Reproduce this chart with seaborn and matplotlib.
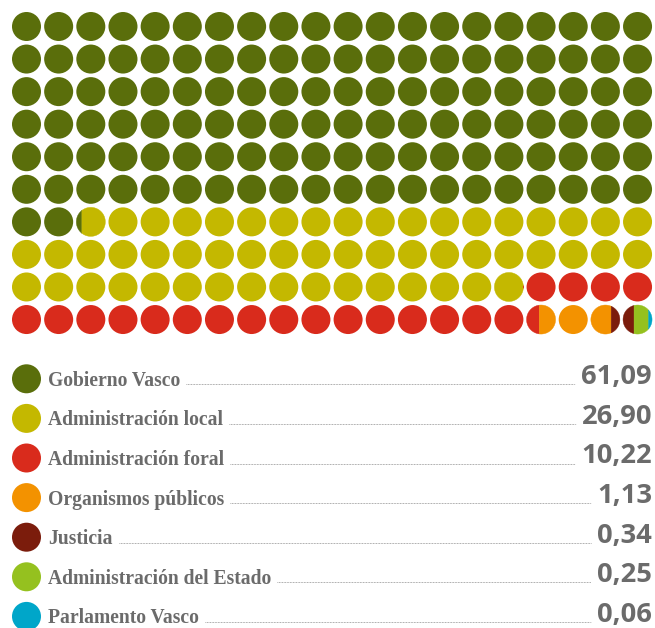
import numpy as np
import pandas as pd
import matplotlib
matplotlib.use('Agg')
import matplotlib.pyplot as plt
from matplotlib.patches import Circle, Polygon
import seaborn as sns

categories = ['Gobierno Vasco', 'Administración local', 'Administración foral',
              'Organismos públicos', 'Justicia', 'Administración del Estado',
              'Parlamento Vasco']
values = [61.09, 26.90, 10.22, 1.13, 0.34, 0.25, 0.06]
value_labels = ['61,09', '26,90', '10,22', '1,13', '0,34', '0,25', '0,06']
colors = ['#5a6e0b', '#c4b800', '#d92b1c', '#f39200', '#7b1c0c', '#95c11f', '#00a6c9']

n_cols, n_rows = 20, 10
text_grey = '#6b6b6b'

sns.set_theme(style='white')

fig = plt.figure(figsize=(6.55, 6.28), dpi=100)
ax = fig.add_axes([0, 0, 1, 1])
ax.set_xlim(0, 655)
ax.set_ylim(628, 0)
ax.axis('off')

# waffle: each circle is 1/200 of the total, split vertically where categories meet
units = np.array(values) / sum(values) * n_cols * n_rows
bounds = np.concatenate([[0], np.cumsum(units)])
r = 14.5
x0, dx = 26.5, 32.16
y0, dy = 26.5, 32.56


def segment_poly(cx, cy, fa, fb, n=40):
    ta = np.arccos(np.clip(2 * fa - 1, -1, 1))
    tb = np.arccos(np.clip(2 * fb - 1, -1, 1))
    upper = np.linspace(ta, tb, n)
    lower = np.linspace(-tb, -ta, n)
    t = np.concatenate([upper, lower])
    return np.column_stack([cx + r * np.cos(t), cy + r * np.sin(t)])


for k in range(n_cols * n_rows):
    row, col = divmod(k, n_cols)
    cx, cy = x0 + col * dx, y0 + row * dy
    segs = []
    for i in range(len(values)):
        a, b = max(k, bounds[i]), min(k + 1, bounds[i + 1])
        if b - a > 1e-6:
            segs.append((a - k, b - k, colors[i]))
    if len(segs) == 1:
        ax.add_patch(Circle((cx, cy), r, color=segs[0][2], lw=0))
    else:
        for fa, fb, c in segs:
            ax.add_patch(Polygon(segment_poly(cx, cy, fa, fb), closed=True,
                                 facecolor=c, edgecolor=c, lw=0.3))

# legend rows
leg_y = 378.8 + 39.6 * np.arange(len(categories))
leg = pd.DataFrame({'x': 26.5, 'y': leg_y, 'cat': categories})
sns.scatterplot(data=leg, x='x', y='y', hue='cat', palette=colors, s=436,
                linewidth=0, legend=False, ax=ax, zorder=3)

label_font = dict(family=['Liberation Serif', 'DejaVu Serif'], weight='bold')
num_font = dict(family=['Open Sans', 'DejaVu Sans'], weight='bold')

labels, nums = [], []
for yy, cat, vl in zip(leg_y, categories, value_labels):
    labels.append(ax.text(48, yy + 7, cat, ha='left', va='baseline', color=text_grey,
                          fontsize=14, **label_font))
    nums.append(ax.text(652, yy + 5.5, vl, ha='right', va='baseline', color=text_grey,
                        fontsize=19.7, **num_font))

# fit label size to the reference width of the first label
fig.canvas.draw()
rend = fig.canvas.get_renderer()
w = labels[0].get_window_extent(rend).width
for t in labels:
    t.set_fontsize(14 * 133 / w)
fig.canvas.draw()

inv = ax.transData.inverted()
for t, nm, yy in zip(labels, nums, leg_y):
    bl = inv.transform(t.get_window_extent(rend))
    bn = inv.transform(nm.get_window_extent(rend))
    xs = max(bl[:, 0]) + 6
    xe = min(bn[:, 0]) - 6
    ax.plot([xs, xe], [yy + 5.5, yy + 5.5], color='#9a9a9a', lw=0.7,
            ls=(0, (0.8, 0.8)), solid_capstyle='butt')

fig.savefig('out.png', dpi=100)
